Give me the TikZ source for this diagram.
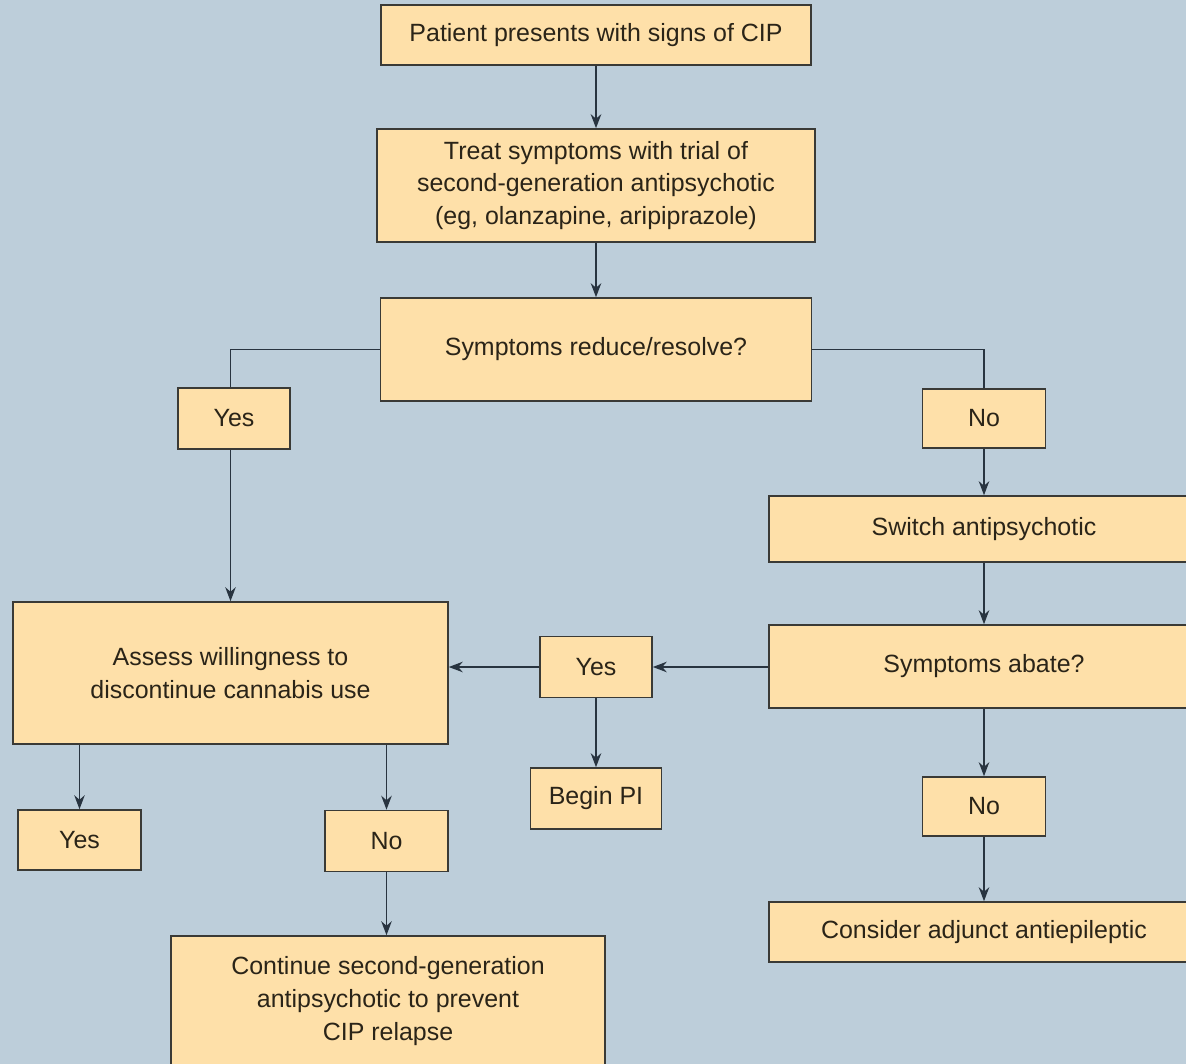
\documentclass[tikz,border=0pt]{standalone}
\usepackage{fontspec}
\setmainfont{Liberation Sans}
\usetikzlibrary{arrows.meta,positioning}

\begin{document}
\begin{tikzpicture}[
    x={(0.02cm,0cm)}, y={(0cm,-0.02cm)},
    every node/.style={font=\fontsize{14.2pt}{18.7pt}\selectfont, text=textbrown},
    box/.style={draw=boxedge, line width=0.9pt, fill=boxfill, inner sep=0pt, align=center},
    link/.style={draw=lineedge, line width=0.9pt, -{Stealth[length=2.8mm, width=2.1mm]}},
    plain/.style={draw=lineedge, line width=0.9pt},
  ]
    \definecolor{pagebg}{HTML}{BDCEDA}
    \definecolor{boxfill}{HTML}{FEE0A9}
    \definecolor{boxedge}{HTML}{3A3A36}
    \definecolor{lineedge}{HTML}{283440}
    \definecolor{textbrown}{HTML}{2A2418}

    % ---- page ----
    \useasboundingbox (0,0) rectangle (1186,1064);
    \fill[pagebg] (0,0) rectangle (1186,1064);

    % ---- centre column ----
    \node[box, minimum width=8.6cm, minimum height=1.2cm] (patient) at (596,35)
      {Patient presents with signs of CIP};
    \node[box, minimum width=8.76cm, minimum height=2.26cm] (treat) at (596,185.5)
      {Treat symptoms with trial of\\second-generation antipsychotic\\(eg, olanzapine, aripiprazole)};
    \node[box, minimum width=8.62cm, minimum height=2.06cm] (reduce) at (596,349.5)
      {Symptoms reduce/resolve?};
    \node[box, minimum width=2.24cm, minimum height=1.22cm] (yesmid) at (596,667) {Yes};
    \node[box, minimum width=2.62cm, minimum height=1.22cm] (beginpi) at (596,798.5) {Begin PI};

    % ---- left branch ----
    \node[box, minimum width=2.24cm, minimum height=1.22cm] (yestop) at (234,418.5) {Yes};
    \node[box, minimum width=8.7cm, minimum height=2.84cm] (assess) at (230.5,673)
      {Assess willingness to\\discontinue cannabis use};
    \node[box, minimum width=2.46cm, minimum height=1.2cm] (yesquit) at (79.5,840) {Yes};
    \node[box, minimum width=2.46cm, minimum height=1.22cm] (noquit) at (386.5,841) {No};
    \node[box, minimum width=8.68cm, minimum height=2.6cm] (continue) at (388,1001)
      {Continue second-generation\\antipsychotic to prevent\\CIP relapse};

    % ---- right branch ----
    \node[box, minimum width=2.46cm, minimum height=1.18cm] (notop) at (984,418.5) {No};
    \node[box, minimum width=8.6cm, minimum height=1.32cm] (switch) at (984,529)
      {Switch antipsychotic};
    \node[box, minimum width=8.6cm, minimum height=1.66cm] (abate) at (984,666.5)
      {Symptoms abate?};
    \node[box, minimum width=2.46cm, minimum height=1.18cm] (noabate) at (984,806.5) {No};
    \node[box, minimum width=8.6cm, minimum height=1.2cm] (consider) at (984,932)
      {Consider adjunct antiepileptic};

    % ---- connectors ----
    \draw[link, line width=1.5pt] (patient) -- (treat);
    \draw[link] (treat) -- (reduce);
    \draw[plain] (reduce.west) -| (yestop.north -| assess.north);
    \draw[plain] (reduce.east) -| (notop.north);
    \draw[link] (yestop.south -| assess.north) -- (assess.north);
    \draw[link] (notop) -- (switch);
    \draw[link] (switch) -- (abate);
    \draw[link] (yesmid.east -| abate.west) -- (yesmid.east);
    \draw[link] (yesmid.west) -- (yesmid.west -| assess.east);
    \draw[link] (yesmid) -- (beginpi);
    \draw[link] (yesquit.north |- assess.south) -- (yesquit.north);
    \draw[link] (noquit.north |- assess.south) -- (noquit.north);
    \draw[link] (noquit.south) -- (noquit.south |- continue.north);
    \draw[link] (abate) -- (noabate);
    \draw[link] (noabate) -- (consider);
  \end{tikzpicture}
\end{document}
